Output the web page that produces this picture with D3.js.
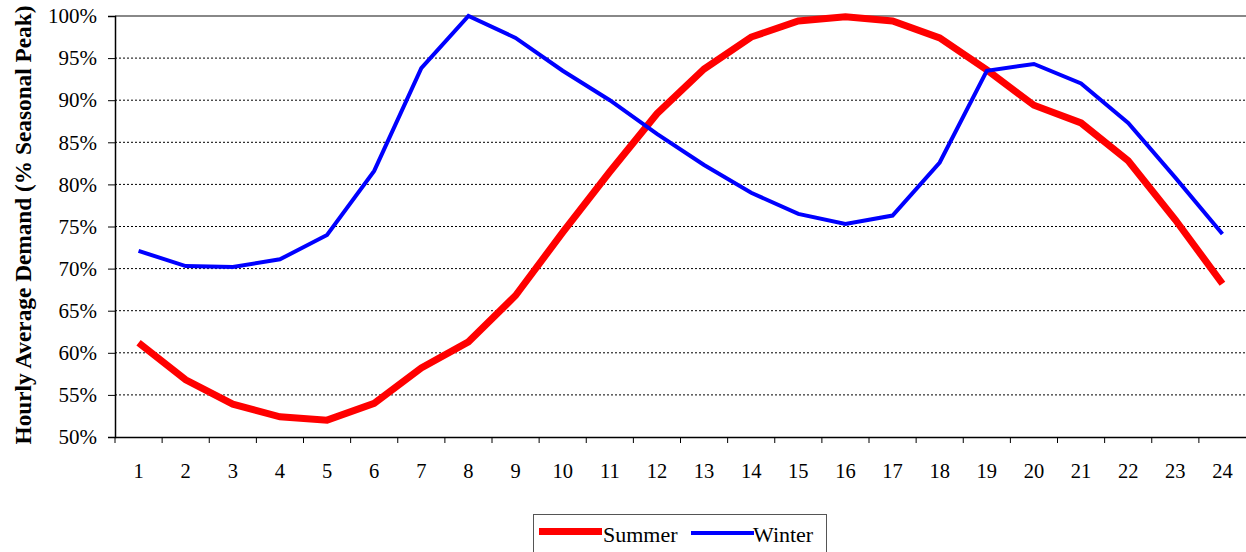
<!DOCTYPE html>
<html><head><meta charset="utf-8">
<script src="https://cdn.jsdelivr.net/npm/d3@7"></script>
<style>body{margin:0;background:#fff}svg{display:block}</style>
</head><body><svg id="c" width="1246" height="552"></svg>
<script>
const hours = d3.range(1, 25).map(String);
const summer = [61.2,56.8,53.9,52.4,52.0,54.0,58.2,61.3,66.8,74.3,81.5,88.4,93.7,97.5,99.4,99.9,99.4,97.4,93.6,89.4,87.3,82.8,75.8,68.2];
const winter = [72.1,70.3,70.2,71.1,74.0,81.6,93.8,100,97.4,93.5,90.0,86.0,82.3,79.0,76.5,75.3,76.3,82.6,93.5,94.3,92.0,87.3,80.8,74.1];
const yTicks = [50,55,60,65,70,75,80,85,90,95,100];
const seriesNames = ["Summer","Winter"];
const colors = ["#ff0000","#0000ff"];
const widths = [7,4];

const svg = d3.select("#c");
const L=115,R=1246,T=16,B=437;
const x = d3.scaleBand().domain(hours).range([L,R]);
const y = d3.scaleLinear().domain([50,100]).range([B,T]);
const font = "'Liberation Serif','Times New Roman',Times,serif";

// gridlines
svg.append("g").selectAll("line").data(yTicks.filter(d=>d>50&&d<100)).join("line")
  .attr("x1",L).attr("x2",R).attr("y1",d=>y(d)).attr("y2",d=>y(d))
  .attr("stroke","#000").attr("stroke-width",1).attr("stroke-dasharray","2,2");
svg.append("line").attr("x1",L).attr("x2",R).attr("y1",y(100)).attr("y2",y(100))
  .attr("stroke","#888").attr("stroke-width",2);

// y axis
const ya = svg.append("g").attr("transform",`translate(${L},0)`)
  .call(d3.axisLeft(y).tickValues(yTicks).tickFormat(d=>d+"%").tickSize(7).tickPadding(11));
ya.select(".domain").attr("stroke","#000").attr("stroke-width",1.5);
ya.selectAll("text").style("font-family",font).attr("font-size",21).attr("fill","#000");

// x axis
const xa = svg.append("g").attr("transform",`translate(0,${B})`)
  .call(d3.axisBottom(x).tickSize(0));
xa.select(".domain").attr("stroke","#000").attr("stroke-width",1.5);
xa.selectAll("text").style("font-family",font).attr("font-size",20.5).attr("fill","#000")
  .attr("dy",null).attr("y",41);
xa.append("g").selectAll("line").data(hours).join("line")
  .attr("x1",d=>x(d)).attr("x2",d=>x(d)).attr("y1",0).attr("y2",6).attr("stroke","#000");

// y title
svg.append("text").attr("transform",`translate(31,${225}) rotate(-90)`)
  .attr("text-anchor","middle").style("font-family",font).attr("font-weight","bold")
  .attr("font-size",23.3).text("Hourly Average Demand (% Seasonal Peak)");

// lines
const line = d3.line().x((d,i)=>x(hours[i])+x.bandwidth()/2).y(d=>y(d));
[summer,winter].forEach((s,k)=>{
  svg.append("path").datum(s).attr("d",line).attr("fill","none")
    .attr("stroke",colors[k]).attr("stroke-width",widths[k]).attr("stroke-linejoin","miter");
});

// legend
const lg = svg.append("g");
lg.append("rect").attr("x",533.5).attr("y",514.5).attr("width",293).attr("height",45)
  .attr("fill","#fff").attr("stroke","#555").attr("stroke-width",1);
const lx=[539,691], tx=[603,753], ly=[531.5,533];
seriesNames.forEach((n,k)=>{
  lg.append("line").attr("x1",lx[k]).attr("x2",lx[k]+63).attr("y1",ly[k]).attr("y2",ly[k])
    .attr("stroke",colors[k]).attr("stroke-width",widths[k]);
  lg.append("text").attr("x",tx[k]).attr("y",542).style("font-family",font).attr("font-size",22)
    .text(n);
});
</script></body></html>
